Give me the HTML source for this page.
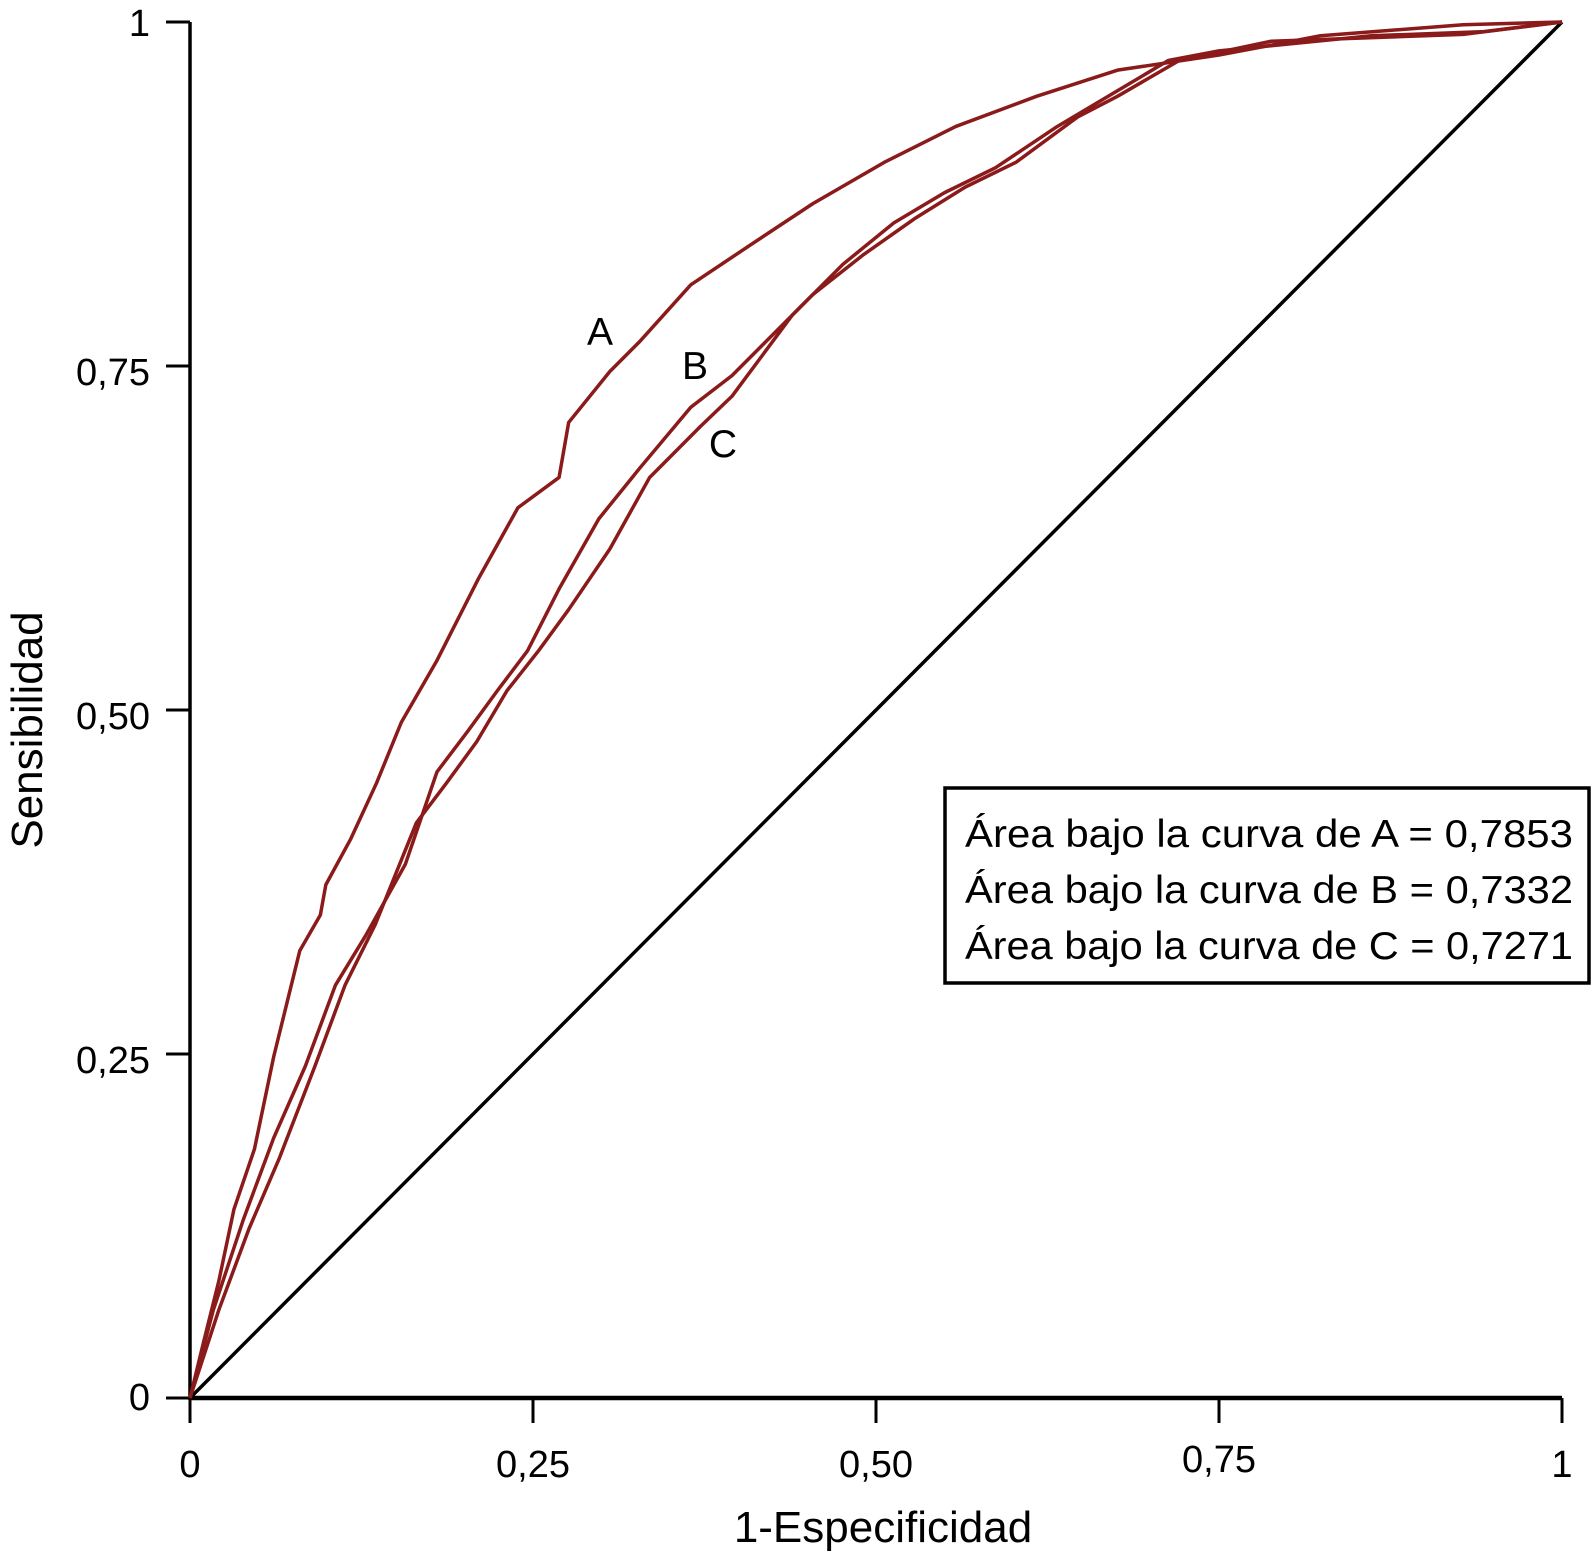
<!DOCTYPE html>
<html><head><meta charset="utf-8"><style>
html,body{margin:0;padding:0;background:#fff;}
svg{display:block;font-family:"Liberation Sans",sans-serif;}
</style></head><body>
<svg id="chart" width="1593" height="1554" viewBox="0 0 1593 1554" xmlns="http://www.w3.org/2000/svg">
<g id="axes"></g>
<g id="series"></g>
<text x="600" y="345" font-size="39" text-anchor="middle">A</text>
<text x="695" y="379" font-size="39" text-anchor="middle">B</text>
<text x="723" y="457" font-size="39" text-anchor="middle">C</text>
<text x="883" y="1542" font-size="44" text-anchor="middle">1-Especificidad</text>
<text transform="translate(42,730) rotate(-90)" font-size="44" text-anchor="middle">Sensibilidad</text>
<g>
<rect x="945" y="788" width="644" height="195" fill="#fff" stroke="#000" stroke-width="3.5"/>
<text x="965" y="847" font-size="39" textLength="608" lengthAdjust="spacingAndGlyphs">Área bajo la curva de A = 0,7853</text>
<text x="965" y="903" font-size="39" textLength="608" lengthAdjust="spacingAndGlyphs">Área bajo la curva de B = 0,7332</text>
<text x="965" y="959" font-size="39" textLength="608" lengthAdjust="spacingAndGlyphs">Área bajo la curva de C = 0,7271</text>
</g>
</svg>
<script>
const xTicks=[0,0.25,0.5,0.75,1];
const xTickLabels=["0","0,25","0,50","0,75","1"];
const yTicks=[0,0.25,0.5,0.75,1];
const yTickLabels=["0","0,25","0,50","0,75","1"];
const ax=[0,0.01,0.021,0.032,0.047,0.061,0.08,0.095,0.099,0.117,0.136,0.154,0.18,0.21,0.239,0.269,0.276,0.306,0.328,0.365,0.41,0.454,0.506,0.558,0.617,0.676,0.75,0.824,0.928,1];
const ay=[0,0.041,0.085,0.137,0.181,0.248,0.325,0.351,0.373,0.406,0.447,0.491,0.536,0.595,0.647,0.669,0.709,0.746,0.768,0.809,0.839,0.868,0.898,0.924,0.946,0.965,0.976,0.99,0.998,1];
const bx=[0,0.017,0.039,0.061,0.084,0.106,0.128,0.157,0.18,0.202,0.224,0.246,0.269,0.298,0.328,0.365,0.395,0.424,0.454,0.491,0.528,0.565,0.602,0.647,0.676,0.721,0.788,0.928,1];
const by=[0,0.064,0.13,0.189,0.241,0.3,0.336,0.388,0.455,0.484,0.514,0.543,0.588,0.639,0.676,0.72,0.743,0.772,0.802,0.831,0.857,0.88,0.898,0.931,0.946,0.972,0.986,0.991,1];
const cx=[0,0.021,0.043,0.065,0.091,0.113,0.135,0.165,0.187,0.209,0.231,0.254,0.276,0.306,0.335,0.372,0.395,0.439,0.476,0.513,0.55,0.587,0.632,0.676,0.713,0.75,0.861,0.943,1];
const cy=[0,0.064,0.123,0.174,0.241,0.3,0.344,0.418,0.447,0.477,0.514,0.543,0.573,0.617,0.669,0.706,0.728,0.787,0.824,0.854,0.876,0.894,0.924,0.95,0.972,0.979,0.99,0.993,1];
const X0=190,X1=1562,Y0=1398,Y1=22;
const sx=v=>X0+v*(X1-X0), sy=v=>Y0-v*(Y0-Y1);
const NS="http://www.w3.org/2000/svg";
function mk(tag,attrs,parent){const e=document.createElementNS(NS,tag);for(const k in attrs)e.setAttribute(k,attrs[k]);parent.appendChild(e);return e;}
const axes=document.getElementById('axes'), series=document.getElementById('series');
let l=mk('line',{x1:X0,y1:Y0,x2:X1,y2:Y0,stroke:'#000','stroke-width':4.5},axes);


l=mk('line',{x1:X0,y1:Y0+2,x2:X0,y2:Y1,stroke:'#000','stroke-width':3.5},axes);


xTicks.forEach((t,i)=>{
 const tk=mk('line',{x1:sx(t),y1:Y0,x2:sx(t),y2:Y0+25,stroke:'#000','stroke-width':3},axes);
 
 
 const tx=mk('text',{x:sx(t),y:(t===0.75?1472:1477),'font-size':38,'text-anchor':'middle'},axes);
 tx.textContent=xTickLabels[i];
 
 
});
yTicks.forEach((t,i)=>{
 const tk=mk('line',{x1:X0-24,y1:sy(t),x2:X0,y2:sy(t),stroke:'#000','stroke-width':3},axes);
 
 
 const tx=mk('text',{x:150,y:sy(t)+(t===0?12:t===1?14:19),'font-size':38,'text-anchor':'end'},axes);
 tx.textContent=yTickLabels[i];
 
 
});
const d=mk('line',{x1:sx(0),y1:sy(0),x2:sx(1),y2:sy(1),stroke:'#000','stroke-width':3.5},series);


[[ax,ay,'curve-a'],[bx,by,'curve-b'],[cx,cy,'curve-c']].forEach(([xs,ys,n])=>{
 const p=mk('polyline',{points:xs.map((v,i)=>sx(v)+','+sy(ys[i])).join(' '),fill:'none',stroke:'#8b1a1a','stroke-width':3.5,'stroke-linejoin':'round'},series);
 
 
});
</script>
</body></html>
